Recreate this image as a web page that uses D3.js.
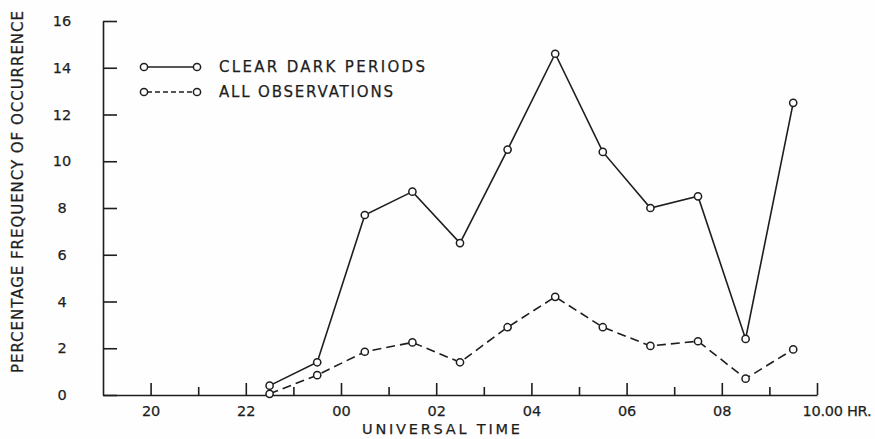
<!DOCTYPE html>
<html>
<head>
<meta charset="utf-8">
<script src="https://cdn.jsdelivr.net/npm/d3@7"></script>
<style>
  html, body { margin: 0; padding: 0; background: #fefefe; }
  svg { display: block; }
  text { font-family: "DejaVu Sans", sans-serif; fill: #1e1e1e; stroke: #1e1e1e; stroke-width: 0.25; }
</style>
</head>
<body>
<svg id="chart" width="875" height="439"></svg>
<script>
// Universal time of each half-hour bin (hours after 00 are counted past 24)
const hours = [22.5, 23.5, 24.5, 25.5, 26.5, 27.5, 28.5, 29.5, 30.5, 31.5, 32.5, 33.5];
// Percentage frequency of occurrence
const clearDark = [0.4, 1.4, 7.7, 8.7, 6.5, 10.5, 14.6, 10.4, 8.0, 8.5, 2.4, 12.5];
const allObs    = [0.05, 0.85, 1.85, 2.25, 1.4, 2.9, 4.2, 2.9, 2.1, 2.3, 0.7, 1.95];

const yTicks = [0, 2, 4, 6, 8, 10, 12, 14, 16];
const majorHours = [20, 22, 24, 26, 28, 30, 32, 34];
const majorLabels = ["20", "22", "00", "02", "04", "06", "08", "10.00 HR."];
const minorHours = [21, 23, 25, 27, 29, 31, 33];

const seriesNames = ["CLEAR DARK PERIODS", "ALL OBSERVATIONS"];

const ink = "#1e1e1e";
const svg = d3.select("#chart");

const x = d3.scaleLinear().domain([19, 34]).range([103, 817]);
const y = d3.scaleLinear().domain([0, 16]).range([395, 21]);

// Y axis: ticks point inward
const yAxis = svg.append("g")
  .attr("transform", `translate(${x(19)},0)`)
  .call(d3.axisLeft(y).tickValues(yTicks).tickSizeInner(-14).tickSizeOuter(0).tickPadding(32)
    .tickFormat(d => String(d)));
yAxis.selectAll("text").attr("font-size", 14.5).attr("text-anchor", "middle").attr("dx", "-9");

// X axis: long ticks on even hours, short ticks on odd hours
const xAxis = svg.append("g")
  .attr("transform", `translate(0,${y(0)})`)
  .call(d3.axisBottom(x).tickValues(majorHours).tickSizeInner(-12).tickSizeOuter(0).tickPadding(8)
    .tickFormat((d, i) => majorLabels[i]));
xAxis.selectAll("text").attr("font-size", 14.5).attr("dy", "0.9em");
xAxis.selectAll(".tick").filter(d => d === 34).select("text")
  .attr("text-anchor", "start").attr("dx", -15)
  .attr("textLength", 69).attr("lengthAdjust", "spacing");

svg.append("g")
  .attr("transform", `translate(0,${y(0)})`)
  .call(d3.axisBottom(x).tickValues(minorHours).tickSizeInner(-8).tickSizeOuter(0).tickFormat(""))
  .select(".domain").remove();

svg.selectAll(".domain, .tick line").attr("stroke", ink).attr("stroke-width", 1.6);

// Axis titles
svg.append("text")
  .attr("transform", "translate(23,192) rotate(-90)")
  .attr("text-anchor", "middle")
  .attr("font-size", 15)
  .attr("textLength", 362).attr("lengthAdjust", "spacing")
  .text("PERCENTAGE FREQUENCY OF OCCURRENCE");

svg.append("text")
  .attr("x", 362).attr("y", 434)
  .attr("font-size", 14.5)
  .attr("textLength", 158).attr("lengthAdjust", "spacing")
  .text("UNIVERSAL TIME");

// Series lines and open-circle markers
const line = d3.line().x((d, i) => x(hours[i])).y(d => y(d));
const series = [
  { values: clearDark, dash: null },
  { values: allObs, dash: "9,5" }
];

series.forEach(s => {
  svg.append("path")
    .datum(s.values)
    .attr("d", line)
    .attr("fill", "none")
    .attr("stroke", ink)
    .attr("stroke-width", 1.6)
    .attr("stroke-dasharray", s.dash);
  svg.append("g").selectAll("circle")
    .data(s.values)
    .join("circle")
    .attr("cx", (d, i) => x(hours[i]))
    .attr("cy", d => y(d))
    .attr("r", 3.6)
    .attr("fill", "#fefefe")
    .attr("stroke", ink)
    .attr("stroke-width", 1.5);
});

// Legend
const legendRows = [67, 92];
const legendWidths = [206, 174];
series.forEach((s, i) => {
  const g = svg.append("g").attr("transform", `translate(0,${legendRows[i]})`);
  g.append("line")
    .attr("x1", 147).attr("x2", 194).attr("y1", 0).attr("y2", 0)
    .attr("stroke", ink).attr("stroke-width", 1.6)
    .attr("stroke-dasharray", s.dash ? "5,3" : null);
  [144, 197].forEach(cx => g.append("circle")
    .attr("cx", cx).attr("cy", 0).attr("r", 3.6)
    .attr("fill", "#fefefe").attr("stroke", ink).attr("stroke-width", 1.5));
  g.append("text")
    .attr("x", 219).attr("y", 0).attr("dy", "0.36em")
    .attr("font-size", 15)
    .attr("textLength", legendWidths[i]).attr("lengthAdjust", "spacing")
    .text(seriesNames[i]);
});
</script>
</body>
</html>
